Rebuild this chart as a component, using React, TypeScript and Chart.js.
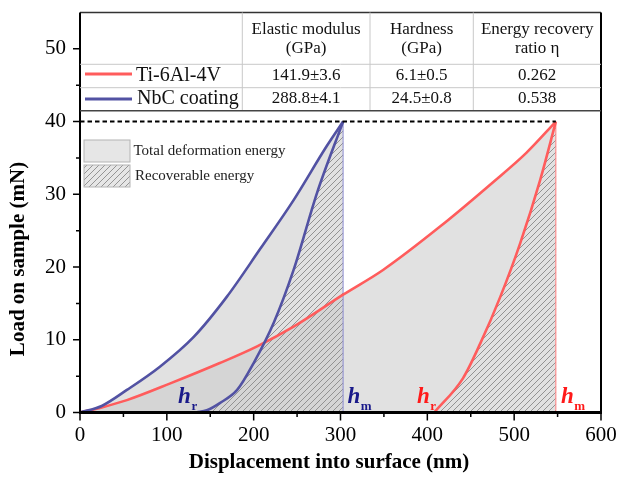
import React, { useEffect, useRef } from "react";
import { Chart, registerables } from "chart.js";

Chart.register(...registerables);

// ---- data ----
const tiLoadX = [0, 25, 54, 104, 161, 204, 246, 303, 349, 415, 476, 514, 548];
const tiLoadY = [0, 0.7, 1.7, 4.0, 6.8, 9.1, 11.8, 16.2, 19.6, 25.6, 31.7, 35.7, 40];
const tiUnloadX = [408, 441, 461, 484, 507, 530, 548];
const tiUnloadY = [0, 4.7, 9.5, 15.9, 23.3, 32.0, 40];
const nbcLoadX = [0, 25, 54, 92, 131, 169, 207, 246, 284, 303];
const nbcLoadY = [0, 0.9, 3.1, 6.3, 10.4, 15.9, 22.4, 29.2, 36.6, 40];
const nbcUnloadX = [134, 146, 161, 181, 200, 223, 246, 273, 303];
const nbcUnloadY = [0, 0.3, 1.3, 3.1, 6.8, 12.3, 19.6, 30.2, 40];
const maxLoad = 40;
const hmTi = 548;
const hmNbc = 303;
const hLabelX = [113, 308, 388, 554]; // label anchors: NbC hr, NbC hm, Ti hr, Ti hm
const xTicks = [0, 100, 200, 300, 400, 500, 600];
const xMinorTicks = [50, 150, 250, 350, 450, 550];
const yTicks = [0, 10, 20, 30, 40, 50];
const yMinorTicks = [5, 15, 25, 35, 45];
const tableHeaders = [["Elastic modulus", "(GPa)"], ["Hardness", "(GPa)"], ["Energy recovery", "ratio η"]];
const seriesNames = ["Ti-6Al-4V", "NbC coating"];
const tiProps = ["141.9±3.6", "6.1±0.5", "0.262"];
const nbcProps = ["288.8±4.1", "24.5±0.8", "0.538"];
const legendNames = ["Total deformation energy", "Recoverable energy"];

const RED = "#ff5c5c";
const BLUE = "#5252a3";
const SERIF = '"Liberation Serif", "Times New Roman", serif';

const pts = (xs: number[], ys: number[]) => xs.map((x, i) => ({ x, y: ys[i] }));

const noPad = (s: any) => {
  s.paddingTop = 0;
  s.paddingBottom = 0;
  s.paddingLeft = 0;
  s.paddingRight = 0;
};

export default function App() {
  const ref = useRef<HTMLCanvasElement>(null);

  useEffect(() => {
    const canvas = ref.current!;
    const ctx = canvas.getContext("2d")!;

    const pc = document.createElement("canvas");
    pc.width = 6;
    pc.height = 6;
    const p = pc.getContext("2d")!;
    p.strokeStyle = "#8a8a8a";
    p.lineWidth = 0.9;
    p.beginPath();
    p.moveTo(0, 6); p.lineTo(6, 0);
    p.moveTo(-1, 1); p.lineTo(1, -1);
    p.moveTo(5, 7); p.lineTo(7, 5);
    p.stroke();
    const hatch = ctx.createPattern(pc, "repeat")!;
    const gray = "rgba(205,205,205,0.6)";

    const overlay = {
      id: "overlay",
      afterDatasetsDraw(chart: any) {
        const c = chart.ctx;
        const xs = chart.scales.x;
        const ys = chart.scales.y;
        const { left, right, top, bottom } = chart.chartArea;
        c.save();
        c.strokeStyle = "#000";
        c.lineWidth = 1.5;
        c.beginPath();
        yTicks.forEach((v) => { const y = ys.getPixelForValue(v); c.moveTo(left, y); c.lineTo(left - 7, y); });
        yMinorTicks.forEach((v) => { const y = ys.getPixelForValue(v); c.moveTo(left, y); c.lineTo(left - 4, y); });
        xTicks.forEach((v) => { const x = xs.getPixelForValue(v); c.moveTo(x, bottom); c.lineTo(x, bottom + 8); });
        xMinorTicks.forEach((v) => { const x = xs.getPixelForValue(v); c.moveTo(x, bottom); c.lineTo(x, bottom + 4.5); });
        c.stroke();
        c.lineWidth = 1.5;
        c.strokeStyle = "#333";
        c.beginPath(); c.moveTo(left, top); c.lineTo(right, top); c.stroke();
        c.strokeStyle = "#000";
        c.lineWidth = 2;
        c.beginPath(); c.moveTo(left, top); c.lineTo(left, bottom); c.stroke();
        c.beginPath(); c.moveTo(right, top); c.lineTo(right, bottom + 1.5); c.stroke();
        c.lineWidth = 3;
        c.beginPath(); c.moveTo(left - 1, bottom); c.lineTo(right + 1, bottom); c.stroke();
        c.restore();
      },
      afterDraw(chart: any) {
        const c = chart.ctx;
        const xs = chart.scales.x;
        const ys = chart.scales.y;
        const { left, right, top } = chart.chartArea;
        c.save();
        // ---- table ----
        const r1 = top + 51.8, r2 = top + 75.2, r3 = top + 98.2;
        const cols = [left + 162.3, left + 290, left + 393.3, right];
        c.strokeStyle = "#c8c8c8";
        c.lineWidth = 1;
        c.beginPath();
        c.moveTo(left, r1); c.lineTo(right, r1);
        c.moveTo(left, r2); c.lineTo(right, r2);
        for (let i = 0; i < 3; i++) { c.moveTo(cols[i], top); c.lineTo(cols[i], r3); }
        c.stroke();
        c.strokeStyle = "#444";
        c.lineWidth = 1.5;
        c.beginPath(); c.moveTo(left, r3); c.lineTo(right, r3); c.stroke();

        c.fillStyle = "#111";
        c.textBaseline = "middle";
        c.textAlign = "center";
        c.font = `17px ${SERIF}`;
        for (let i = 0; i < 3; i++) {
          const cx = (cols[i] + cols[i + 1]) / 2;
          c.fillText(tableHeaders[i][0], cx, top + 17);
          c.fillText(tableHeaders[i][1], cx, top + 36);
          c.fillText(tiProps[i], cx, top + 63);
          c.fillText(nbcProps[i], cx, top + 86);
        }
        c.textAlign = "left";
        c.font = `20px ${SERIF}`;
        c.fillText(seriesNames[0], left + 56, top + 63);
        c.fillText(seriesNames[1], left + 57, top + 86);
        c.lineWidth = 3;
        c.strokeStyle = RED;
        c.beginPath(); c.moveTo(left + 5, top + 61.5); c.lineTo(left + 52, top + 61.5); c.stroke();
        c.strokeStyle = BLUE;
        c.beginPath(); c.moveTo(left + 5, top + 86.5); c.lineTo(left + 52, top + 86.5); c.stroke();

        // ---- energy legend ----
        const bx = left + 4, bw = 46, bh = 22;
        const b1 = top + 127.5, b2 = top + 152.5;
        c.fillStyle = "#e6e6e6";
        c.fillRect(bx, b1, bw, bh);
        c.fillRect(bx, b2, bw, bh);
        c.fillStyle = hatch;
        c.fillRect(bx, b2, bw, bh);
        c.strokeStyle = "#b4b4b4";
        c.lineWidth = 1;
        c.strokeRect(bx, b1, bw, bh);
        c.strokeRect(bx, b2, bw, bh);
        c.fillStyle = "#222";
        c.font = `15px ${SERIF}`;
        c.fillText(legendNames[0], left + 53.5, b1 + 11.5);
        c.fillText(legendNames[1], left + 55, b2 + 11.5);

        // ---- h labels ----
        const y0 = ys.getPixelForValue(0);
        const hl = (xv: number, sub: string, color: string) => {
          const x = xs.getPixelForValue(xv);
          c.fillStyle = color;
          c.textBaseline = "alphabetic";
          c.font = `italic bold 23px ${SERIF}`;
          c.fillText("h", x, y0 - 9.5);
          const w = c.measureText("h").width;
          c.font = `bold 13px ${SERIF}`;
          c.fillText(sub, x + w + 0.5, y0 - 3);
        };
        hl(hLabelX[0], "r", "#1a1a8a");
        hl(hLabelX[1], "m", "#1a1a8a");
        hl(hLabelX[2], "r", "#ff1a1a");
        hl(hLabelX[3], "m", "#ff1a1a");

        // ---- axis titles ----
        c.fillStyle = "#000";
        c.textAlign = "center";
        c.textBaseline = "middle";
        c.font = `bold 21px ${SERIF}`;
        c.fillText("Displacement into surface (nm)", 329, 463);
        c.translate(19, 259);
        c.rotate(-Math.PI / 2);
        c.fillText("Load on sample (mN)", 0, 0);
        c.restore();
      },
    };

    const common = { pointRadius: 0, cubicInterpolationMode: "monotone" as const, clip: false as any };

    const chart = new Chart(ctx, {
      type: "line",
      data: {
        datasets: [
          { ...common, data: pts(nbcLoadX, nbcLoadY), borderWidth: 0, borderColor: "transparent", backgroundColor: gray, fill: "origin", order: 20 },
          { ...common, data: pts(tiLoadX, tiLoadY), borderWidth: 0, borderColor: "transparent", backgroundColor: gray, fill: "origin", order: 20 },
          { ...common, data: pts(nbcUnloadX, nbcUnloadY), borderWidth: 0, borderColor: "transparent", backgroundColor: hatch, fill: "origin", order: 15 },
          { ...common, data: pts(tiUnloadX, tiUnloadY), borderWidth: 0, borderColor: "transparent", backgroundColor: hatch, fill: "origin", order: 15 },
          { ...common, data: [{ x: hmNbc, y: 0 }, { x: hmNbc, y: maxLoad }], borderWidth: 1, borderColor: "#8a8ad0", fill: false, order: 10 },
          { ...common, data: [{ x: hmTi, y: 0 }, { x: hmTi, y: maxLoad }], borderWidth: 1, borderColor: "#ff7a7a", fill: false, order: 10 },
          { ...common, data: pts(tiLoadX, tiLoadY), borderWidth: 2.6, borderColor: RED, fill: false, order: 4 },
          { ...common, data: pts(tiUnloadX, tiUnloadY), borderWidth: 2.6, borderColor: RED, fill: false, order: 4 },
          { ...common, data: pts(nbcLoadX, nbcLoadY), borderWidth: 2.6, borderColor: BLUE, fill: false, order: 3 },
          { ...common, data: pts(nbcUnloadX, nbcUnloadY), borderWidth: 2.6, borderColor: BLUE, fill: false, order: 3 },
          { ...common, data: [{ x: 0, y: maxLoad }, { x: hmTi, y: maxLoad }], borderWidth: 2, borderColor: "#000", borderDash: [4.5, 3], fill: false, order: 1 },
        ],
      },
      options: {
        animation: false,
        responsive: false,
        devicePixelRatio: 1,
        layout: { padding: { top: 12.5, right: 19, left: 0, bottom: 0 } },
        plugins: { legend: { display: false }, tooltip: { enabled: false } },
        scales: {
          x: {
            type: "linear",
            min: 0,
            max: 600,
            afterFit: (s: any) => { s.height = 73.5; noPad(s); },
            afterBuildTicks: (s: any) => { s.ticks = xTicks.map((v) => ({ value: v })); },
            grid: { display: false, drawTicks: false, tickLength: 0 },
            border: { display: false },
            ticks: { padding: 10, color: "#000", font: { family: SERIF, size: 21 }, maxRotation: 0, autoSkip: false },
          },
          y: {
            type: "linear",
            min: 0,
            max: 55,
            afterFit: (s: any) => { s.width = 80; noPad(s); },
            afterBuildTicks: (s: any) => { s.ticks = yTicks.map((v) => ({ value: v })); },
            grid: { display: false, drawTicks: false, tickLength: 0 },
            border: { display: false },
            ticks: { padding: 14, color: "#000", font: { family: SERIF, size: 21 }, autoSkip: false },
          },
        },
      },
      plugins: [overlay],
    } as any);

    return () => chart.destroy();
  }, []);

  return (
    <div style={{ position: "fixed", left: 0, top: 0, width: 620, height: 486, background: "#fff" }}>
      <canvas ref={ref} width={620} height={486} style={{ display: "block", width: 620, height: 486 }} />
    </div>
  );
}
